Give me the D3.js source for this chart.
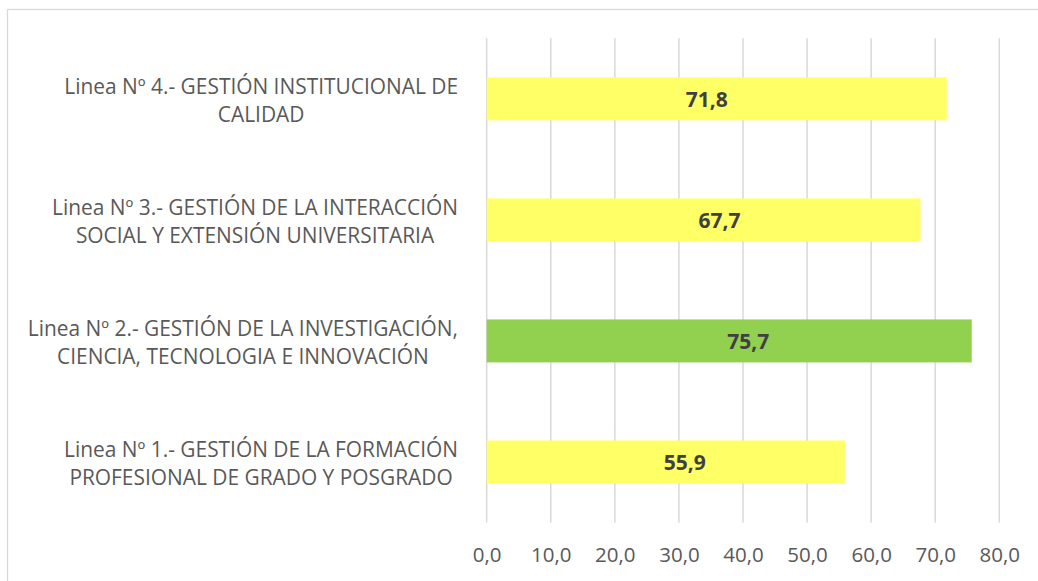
<!DOCTYPE html>
<html>
<head>
<meta charset="utf-8">
<script src="https://cdn.jsdelivr.net/npm/d3@7"></script>
<style>
  html, body { margin: 0; padding: 0; background: #ffffff; }
  svg { display: block; }
</style>
</head>
<body>
<svg id="chart" width="1038" height="581"></svg>
<script>
// ---- data (top to bottom as drawn) ----
const categories = [
  ["Linea Nº 4.- GESTIÓN INSTITUCIONAL DE", "CALIDAD"],
  ["Linea Nº 3.- GESTIÓN DE LA INTERACCIÓN", "SOCIAL Y EXTENSIÓN UNIVERSITARIA"],
  ["Linea Nº 2.- GESTIÓN DE LA INVESTIGACIÓN,", "CIENCIA, TECNOLOGIA E INNOVACIÓN"],
  ["Linea Nº 1.- GESTIÓN DE LA FORMACIÓN", "PROFESIONAL DE GRADO Y POSGRADO"]
];
const values = [71.8, 67.7, 75.7, 55.9];
const highlighted = [false, false, true, false];
const tickValues = [0, 10, 20, 30, 40, 50, 60, 70, 80];

// ---- layout / style ----
const svg = d3.select("#chart");
const W = 1038, H = 581;
const plot = { left: 486.7, right: 999.3, top: 38.3, bottom: 522.5 };
const colorYellow = "#FFFF66", colorGreen = "#92D050";
const gridColor = "#d9d9d9";
const FONT = "'Open Sans', 'DejaVu Sans', sans-serif";
// manual data-label nudges (pixels), as placed in the original
const labelNudge = [-10, 16, 19, 19];

svg.append("rect").attr("width", W).attr("height", H).attr("fill", "#fff");
// chart border (extends past the bottom/right of the picture)
svg.append("rect")
  .attr("x", 7.5).attr("y", 9.5).attr("width", 1200).attr("height", 800)
  .attr("fill", "none").attr("stroke", gridColor).attr("stroke-width", 1.3);

const x = d3.scaleLinear().domain([0, 80]).range([plot.left, plot.right]);
const y = d3.scaleBand().domain(d3.range(categories.length))
  .range([plot.top, plot.bottom]).paddingInner(0.645).paddingOuter(0.3225);

// gridlines
svg.append("g").selectAll("line").data(tickValues).join("line")
  .attr("x1", d => x(d)).attr("x2", d => x(d))
  .attr("y1", plot.top).attr("y2", plot.bottom)
  .attr("stroke", gridColor).attr("stroke-width", 1.5);

// x axis tick labels
const fmt = v => d3.format(".1f")(v).replace(".", ",");
const xAxis = d3.axisBottom(x).tickValues(tickValues).tickSize(0).tickPadding(0).tickFormat(fmt);
const gx = svg.append("g").call(xAxis);
gx.select(".domain").remove();
gx.selectAll("text")
  .attr("y", 562.3).attr("dy", null)
  .attr("font-family", FONT).attr("font-size", 20.5).attr("fill", "#595959");

// bars
svg.append("g").selectAll("rect").data(values).join("rect")
  .attr("x", x(0))
  .attr("y", (d, i) => y(i))
  .attr("width", d => x(d) - x(0))
  .attr("height", y.bandwidth())
  .attr("fill", (d, i) => highlighted[i] ? colorGreen : colorYellow);

// data labels
svg.append("g").selectAll("text").data(values).join("text")
  .attr("x", (d, i) => (x(0) + x(d)) / 2 + labelNudge[i])
  .attr("y", (d, i) => y(i) + y.bandwidth() / 2 + 7.8)
  .attr("text-anchor", "middle")
  .attr("font-family", FONT).attr("font-size", 21).attr("font-weight", "bold")
  .attr("fill", "#404040")
  .text(d => fmt(d));

// category labels (two lines, centred within a block right-aligned to the axis)
const labelRight = 458;
const lineGap = 28.4;
const gl = svg.append("g");
categories.forEach((lines, i) => {
  const cy = y(i) + y.bandwidth() / 2 + 1.8;
  const t = gl.append("text")
    .attr("font-family", FONT).attr("font-size", 20.9).attr("fill", "#595959")
    .attr("text-anchor", "middle");
  const spans = lines.map((ln, k) => t.append("tspan")
    .attr("y", cy + (k - (lines.length - 1) / 2) * lineGap + 7.4)
    .text(ln));
  const maxW = d3.max(spans, s => s.node().getComputedTextLength());
  spans.forEach(s => s.attr("x", labelRight - maxW / 2));
});
</script>
</body>
</html>
